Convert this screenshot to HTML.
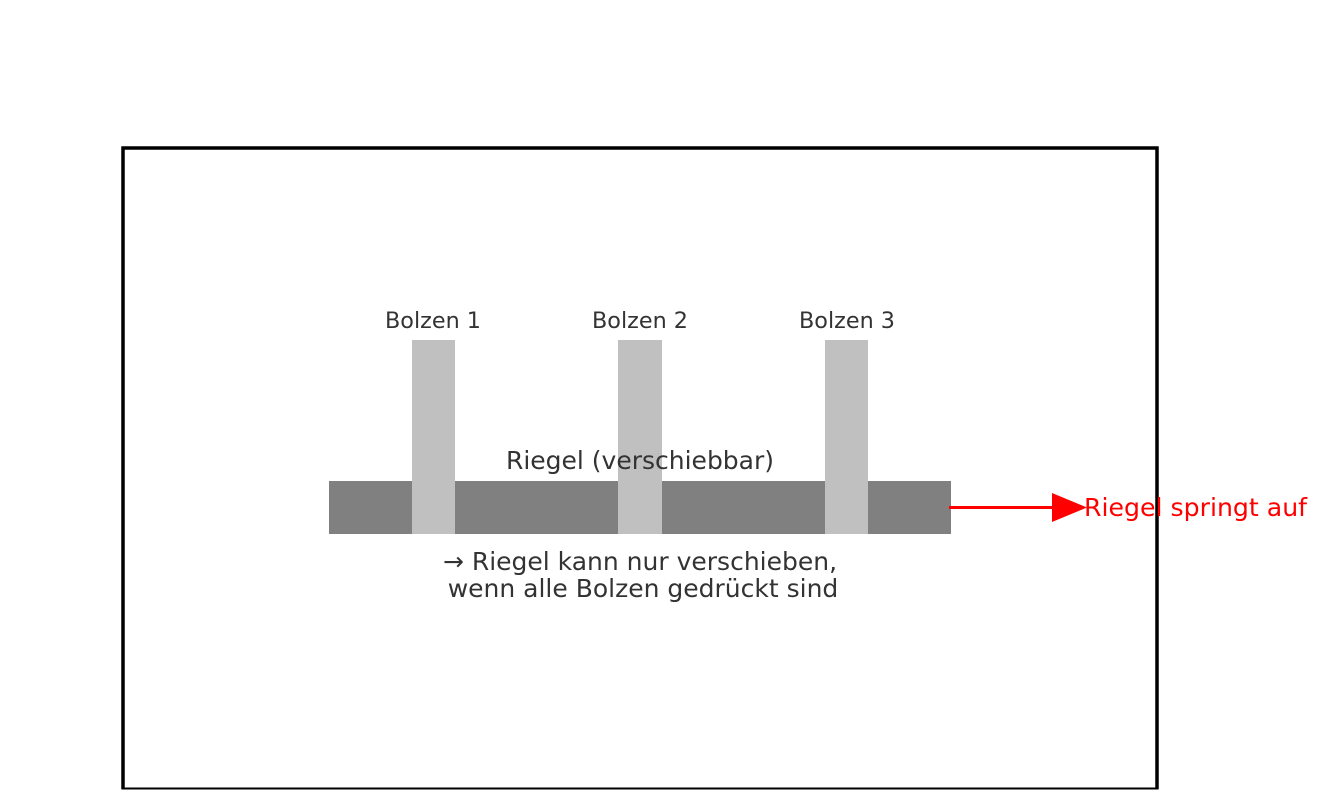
<!DOCTYPE html>
<html><head><style>
html,body{margin:0;padding:0;background:#fff;}
</style></head><body>
<svg width="1326" height="810" xmlns="http://www.w3.org/2000/svg" style="display:block;font-family:'DejaVu Sans','Liberation Sans',sans-serif">
<rect x="0" y="0" width="1326" height="810" fill="#fff"/>
<path d="M123 789 V148 H1157 V789" fill="none" stroke="#000" stroke-width="3.5"/>
<line x1="121.5" y1="788.5" x2="1158.5" y2="788.5" stroke="#000" stroke-width="2"/>
<rect x="329" y="481" width="622" height="53" fill="#808080"/>
<rect x="412" y="340" width="43" height="194" fill="#c0c0c0"/>
<rect x="618" y="340" width="44" height="194" fill="#c0c0c0"/>
<rect x="825" y="340" width="43" height="194" fill="#c0c0c0"/>
<g fill="#333" font-size="22.3" text-anchor="middle">
<text x="433" y="328">Bolzen 1</text>
<text x="640" y="328">Bolzen 2</text>
<text x="847" y="328">Bolzen 3</text>
</g>
<g fill="#333" font-size="25" text-anchor="middle">
<text x="640" y="469">Riegel (verschiebbar)</text>
<text x="640" y="570">→ Riegel kann nur verschieben,</text>
<text x="643" y="597">wenn alle Bolzen gedrückt sind</text>
</g>
<line x1="949" y1="507.5" x2="1054" y2="507.5" stroke="#f00" stroke-width="3"/>
<polygon points="1052,493 1087,507.5 1052,522" fill="#f00"/>
<text x="1084" y="516" fill="#f00" font-size="25.2">Riegel springt auf</text>
</svg>
</body></html>
